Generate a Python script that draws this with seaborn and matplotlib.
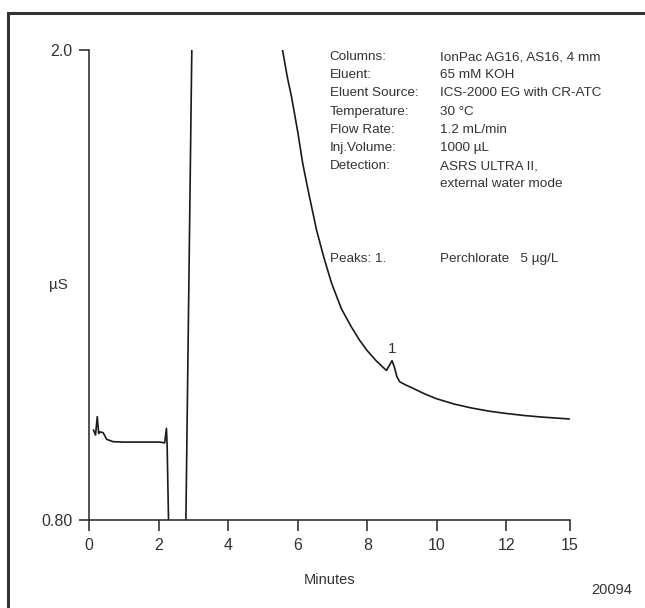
import numpy as np
import pandas as pd
import matplotlib
matplotlib.use("Agg")
import matplotlib.pyplot as plt
from matplotlib.patches import Rectangle
import seaborn as sns

# chromatogram trace (minutes, uS)
minutes = [0.12, 0.18, 0.23, 0.27, 0.31, 0.40, 0.50, 0.69, 1.00, 1.50, 2.03, 2.17, 2.22,
           2.24, 2.28, 2.30, 2.74, 2.78, 2.95, 3.00, 5.50, 5.56, 5.70, 5.82, 6.00, 6.14,
           6.30, 6.54, 6.75, 6.97, 7.25, 7.54, 7.77, 8.00, 8.25, 8.45, 8.55, 8.62, 8.71,
           8.78, 8.85, 8.93, 9.10, 9.30, 9.60, 9.98, 10.50, 11.00, 11.50, 12.00, 12.50,
           13.00, 13.81]
signal = [1.030, 1.017, 1.064, 1.021, 1.025, 1.023, 1.006, 1.000, 0.999, 0.999, 0.999,
          0.997, 1.034, 0.991, 0.800, 0.600, 0.520, 0.800, 2.000, 2.300, 2.300, 2.000,
          1.930, 1.880, 1.790, 1.711, 1.640, 1.540, 1.470, 1.405, 1.340, 1.293, 1.260,
          1.232, 1.207, 1.190, 1.182, 1.193, 1.207, 1.190, 1.166, 1.153, 1.145, 1.137,
          1.124, 1.110, 1.096, 1.086, 1.078, 1.072, 1.067, 1.063, 1.058]

x_ticks = [0, 2, 4, 6, 8, 10, 12, 13.83]
x_tick_labels = ["0", "2", "4", "6", "8", "10", "12", "15"]
y_ticks = [0.80, 2.0]
y_tick_labels = ["0.80", "2.0"]

info_keys = ["Columns:", "Eluent:", "Eluent Source:", "Temperature:", "Flow Rate:",
             "Inj.Volume:", "Detection:", ""]
info_vals = ["IonPac AG16, AS16, 4 mm", "65 mM KOH", "ICS-2000 EG with CR-ATC", "30 °C",
             "1.2 mL/min", "1000 µL", "ASRS ULTRA II,", "external water mode"]

df = pd.DataFrame({"Minutes": minutes, "uS": signal})

sns.set_style("ticks")
plt.rcParams["font.family"] = ["Liberation Sans", "DejaVu Sans"]
ink = "#333333"

fig = plt.figure(figsize=(6.45, 6.08), dpi=100)
ax = fig.add_axes([0.1384, 0.1447, 0.7453, 0.7730])

sns.lineplot(data=df, x="Minutes", y="uS", sort=False, estimator=None,
             color="#1a1a1a", lw=1.2, ax=ax)

ax.set_xlim(0, 13.83)
ax.set_ylim(0.80, 2.0)
ax.set_xticks(x_ticks)
ax.set_xticklabels(x_tick_labels)
ax.set_yticks(y_ticks)
ax.set_yticklabels(y_tick_labels)
ax.tick_params(direction="out", length=8, width=1.2, colors=ink, labelsize=11.5, pad=5)
ax.tick_params(axis="y", length=7)
for s in ["top", "right"]:
    ax.spines[s].set_visible(False)
for s in ["left", "bottom"]:
    ax.spines[s].set_color(ink)
    ax.spines[s].set_linewidth(1.2)

ax.set_xlabel("Minutes", fontsize=10.5, color=ink, labelpad=14)
ax.set_ylabel("µS", fontsize=11, color=ink, rotation=0, va="center")
ax.yaxis.set_label_coords(-0.065, 0.5)

# method info block
top = 0.985
step = 0.0387
fs = 9.7
for i, (k, v) in enumerate(zip(info_keys, info_vals)):
    y = top - i * step
    ax.text(0.50, y, k, transform=ax.transAxes, fontsize=fs, color=ink, va="center")
    ax.text(0.729, y, v, transform=ax.transAxes, fontsize=fs, color=ink, va="center")
ax.text(0.50, 0.555, "Peaks: 1.", transform=ax.transAxes, fontsize=fs, color=ink, va="center")
ax.text(0.729, 0.555, "Perchlorate   5 µg/L", transform=ax.transAxes, fontsize=fs,
        color=ink, va="center")

ax.text(8.7, 1.236, "1", fontsize=11, color=ink, ha="center", va="center")

fig.text(612 / 645, 1 - 590 / 608, "20094", fontsize=10.5, color=ink, ha="center", va="center")

# frame around the figure, cut off at the right and bottom edges
fig.add_artist(Rectangle((8 / 645, -0.1), 1.2, 0.1 + (608 - 13) / 608,
                         transform=fig.transFigure, fill=False, lw=2.2, ec=ink))

fig.savefig("out.png", dpi=100)
